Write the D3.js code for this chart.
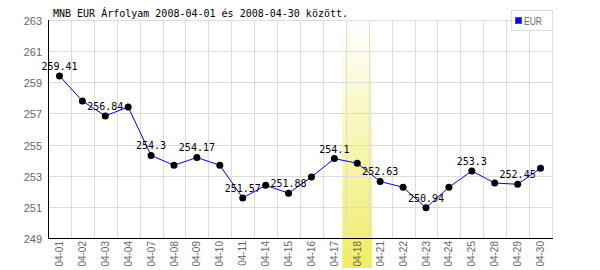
<!DOCTYPE html>
<html lang="hu">
<head>
<meta charset="utf-8">
<script src="https://d3js.org/d3.v7.min.js"></script>
<title>MNB EUR Árfolyam</title>
<style>
  body { margin: 0; background: #fff; }
  svg { display: block; }
</style>
</head>
<body>
<div id="chart"></div>
<script>
// --- data ---
const dates = ["04-01","04-02","04-03","04-04","04-07","04-08","04-09","04-10","04-11","04-14","04-15",
               "04-16","04-17","04-18","04-21","04-22","04-23","04-24","04-25","04-28","04-29","04-30"];
const eur = [259.41, 257.80, 256.84, 257.41, 254.30, 253.67, 254.17, 253.67, 251.57, 252.38, 251.88,
             252.92, 254.10, 253.80, 252.63, 252.26, 250.94, 252.26, 253.30, 252.53, 252.45, 253.48];
const yTicks = [249, 251, 253, 255, 257, 259, 261, 263];
const highlightDay = "04-18";
const title = "MNB EUR Árfolyam 2008-04-01 és 2008-04-30 között.";
const seriesName = "EUR";

const W = 600, H = 270;
const mLeft = 48, mRight = 552, mTop = 20, mBottom = 238;

const svg = d3.select("#chart").append("svg").attr("width", W).attr("height", H);

const x = d3.scaleBand().domain(dates).range([mLeft, mRight]).padding(0);
const y = d3.scaleLinear().domain([249, 263]).range([mBottom, mTop]);

// highlighted day, gradient from white to yellow
const grad = svg.append("defs").append("linearGradient")
  .attr("id", "hl").attr("gradientUnits", "userSpaceOnUse")
  .attr("x1", 0).attr("x2", 0).attr("y1", mTop).attr("y2", H - 2);
grad.append("stop").attr("offset", "0%").attr("stop-color", "#ffffff");
grad.append("stop").attr("offset", "100%").attr("stop-color", "#efed66");

svg.append("rect")
  .attr("x", x(highlightDay) - 3.5)
  .attr("width", x.bandwidth() + 7)
  .attr("y", mTop)
  .attr("height", H - 2 - mTop)
  .attr("fill", "url(#hl)");

// grid
const grid = svg.append("g").attr("stroke", "#dcdcdc").attr("stroke-width", 1).attr("shape-rendering", "crispEdges");
grid.selectAll(".hg").data(yTicks).enter().append("line")
  .attr("x1", mLeft).attr("x2", mRight)
  .attr("y1", d => Math.round(y(d)) + 0.5).attr("y2", d => Math.round(y(d)) + 0.5);
grid.selectAll(".vg").data(dates.slice(1).concat(["end"])).enter().append("line")
  .attr("x1", d => Math.round(d === "end" ? mRight : x(d)) + 0.5)
  .attr("x2", d => Math.round(d === "end" ? mRight : x(d)) + 0.5)
  .attr("y1", mTop).attr("y2", mBottom);

// axes lines
svg.append("line").attr("x1", mLeft + 0.5).attr("x2", mLeft + 0.5).attr("y1", mTop).attr("y2", mBottom + 1)
  .attr("stroke", "#000").attr("shape-rendering", "crispEdges");
svg.append("line").attr("x1", mLeft).attr("x2", mRight + 1).attr("y1", mBottom + 0.5).attr("y2", mBottom + 0.5)
  .attr("stroke", "#000").attr("shape-rendering", "crispEdges");

// y tick labels
svg.append("g").selectAll("text").data(yTicks).enter().append("text")
  .attr("x", mLeft - 6).attr("y", d => y(d) + 5)
  .attr("text-anchor", "end")
  .attr("font-family", "Liberation Sans, Arial, sans-serif").attr("font-size", 11)
  .attr("fill", "#666")
  .text(d => d);

// x tick labels (rotated)
svg.append("g").selectAll("text").data(dates).enter().append("text")
  .attr("transform", d => `translate(${x(d) + x.bandwidth() / 2 + 3.5},${mBottom + 3}) rotate(-90)`)
  .attr("text-anchor", "end")
  .attr("font-family", "Liberation Sans, Arial, sans-serif").attr("font-size", 10)
  .attr("fill", "#666")
  .text(d => d);

// line + points
const cx = d => x(d) + x.bandwidth() / 2;
const line = d3.line().x((d, i) => cx(dates[i])).y(d => y(d));
svg.append("path").datum(eur).attr("d", line)
  .attr("fill", "none").attr("stroke", "#0000ff").attr("stroke-width", 1);

svg.append("g").selectAll("circle").data(eur).enter().append("circle")
  .attr("cx", (d, i) => cx(dates[i])).attr("cy", d => y(d))
  .attr("r", 3.5).attr("fill", "#000");

// value labels on every second point
svg.append("g").selectAll("text").data(eur.map((v, i) => ({v, i})).filter(d => d.i % 2 === 0))
  .enter().append("text")
  .attr("x", d => cx(dates[d.i])).attr("y", d => y(d.v) - 6)
  .attr("text-anchor", "middle")
  .attr("font-family", "DejaVu Sans Mono, monospace").attr("font-size", 10)
  .attr("fill", "#000")
  .text(d => String(d.v));

// title
svg.append("text").attr("x", 53).attr("y", 17)
  .attr("font-family", "DejaVu Sans Mono, monospace").attr("font-size", 10)
  .attr("fill", "#000").text(title);

// legend
const lg = svg.append("g");
lg.append("rect").attr("x", 511.5).attr("y", 10.5).attr("width", 41).attr("height", 20)
  .attr("fill", "#fff").attr("stroke", "#dcdcdc");
lg.append("rect").attr("x", 515.5).attr("y", 17.5).attr("width", 6).attr("height", 6)
  .attr("fill", "#0000ff").attr("stroke", "#555");
lg.append("text").attr("x", 524).attr("y", 25)
  .attr("font-family", "Liberation Sans, Arial, sans-serif").attr("font-size", 11)
  .attr("textLength", 18).attr("lengthAdjust", "spacingAndGlyphs")
  .attr("fill", "#666").text(seriesName);
</script>
</body>
</html>
